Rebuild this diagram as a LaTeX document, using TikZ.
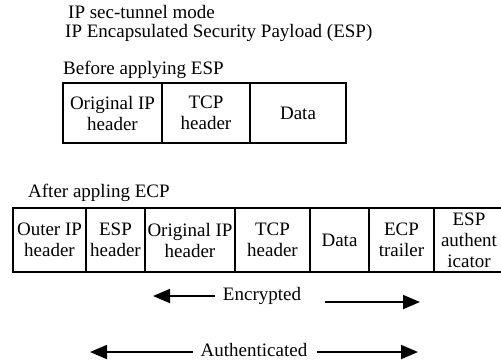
\documentclass[tikz,border=0pt]{standalone}
\usepackage{fontspec}
\setmainfont{Liberation Serif}
\usetikzlibrary{arrows.meta,positioning}
\tikzset{
  cell/.style={draw, line width=1.6pt, inner sep=0pt, align=center,
    font=\fontsize{19}{21}\selectfont},
  caption/.style={anchor=west, inner sep=0pt, text height=12pt, text depth=3pt,
    font=\fontsize{19}{19}\selectfont},
  span/.style={line width=1.8pt, -{Triangle[length=17pt,width=14pt]}},
}
\begin{document}
\begin{tikzpicture}[x=1pt,y=-1pt]
    \clip (0,0) rectangle (501,362);
    % titles
        \node[caption] (mode) at (68,14) {IP sec-tunnel mode};
        \node[caption] (esp) at (65,33) {IP Encapsulated Security Payload (ESP)};
        \node[caption] (before) at (63,70) {Before applying ESP};
        \node[caption] (after) at (28,193) {After appling ECP};
    % before applying
        \foreach \n/\x/\w/\t in {origA/63/99/{Original IP\\header},tcpA/162/88/{TCP\\header},dataA/250/96/{Data}}{
            \node[cell, minimum width=\w pt, minimum height=60pt] (\n) at (\x+\w/2,113) {\t};
        }
    % after applying
        \foreach \n/\x/\w/\t in {outer/13/73/{Outer IP\\header},esph/86/59/{ESP\\header},origB/145/90/{Original IP\\header},tcpB/235/75/{TCP\\header},dataB/310/59/{Data},trailer/369/65/{ECP\\trailer},auth/434/70/{ESP\\authent\\icator}}{
            \node[cell, minimum width=\w pt, minimum height=64pt] (\n) at (\x+\w/2,240) {\t};
        }
    % ranges
        \node[caption, anchor=center] (enc) at (262,296) {Encrypted};
        \coordinate (encL) at (153,296);
        \coordinate (encT) at (325,302);
        \coordinate (encR) at (420,302);
        \draw[span] ([xshift=-8pt]enc.west) -- (encL);
        \draw[span] (encT) -- (encR);
        \node[caption, anchor=center] (authd) at (254,352) {Authenticated};
        \coordinate (authL) at (90,352);
        \coordinate (authR) at (418,352);
        \draw[span] ([xshift=-8pt]authd.west) -- (authL);
        \draw[span] ([xshift=10pt]authd.east) -- (authR);
\end{tikzpicture}
\end{document}
